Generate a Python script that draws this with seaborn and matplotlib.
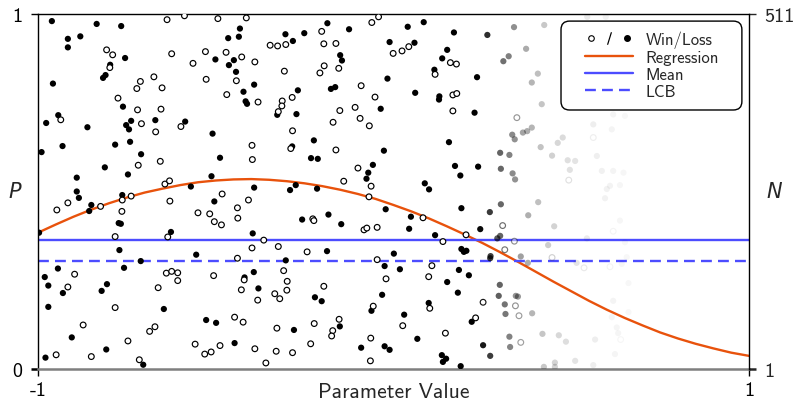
import numpy as np
import pandas as pd
import matplotlib
matplotlib.use("Agg")
import matplotlib.pyplot as plt
import seaborn as sns
from matplotlib.lines import Line2D
from matplotlib.legend_handler import HandlerTuple
from matplotlib.patches import FancyBboxPatch

sns.set_theme(style="ticks")
plt.rcParams['font.family'] = ['cmss10', 'DejaVu Sans']
plt.rcParams['axes.unicode_minus'] = False
plt.rcParams['mathtext.fontset'] = 'dejavusans'

# ---------------- data ----------------
loss_x = [-0.961, -0.835, -0.766, -0.916, -0.881, -0.916, -0.755, -0.501, -0.797, -0.810, -0.817, -0.958,
          -0.761, -0.943, -0.977, -0.861, -0.738, -0.752, -0.744, -0.670, -0.586, -0.509, -0.990, -0.931,
          -0.783, -0.741, -0.710, -0.812, -0.747, -0.891, -0.512, -0.570, -0.891,
          -0.885, -0.850, -0.856, -0.763, -0.773, -0.767, -0.997, -0.771, -0.711, -0.758, -0.504, -0.626,
          -0.555, -0.944, -0.981, -0.971, -0.930, -0.821, -0.806, -0.971, -0.646, -0.905, -0.527, -0.499,
          -0.979, -0.808, -0.704,
          -0.432, -0.465, -0.435, -0.449, -0.463, -0.443, -0.392, -0.422, -0.416, -0.412, -0.304, -0.283,
          -0.251, -0.269, -0.327, -0.273, -0.285, -0.488, -0.224, -0.232, -0.213, -0.392, -0.275, -0.291,
          -0.215, -0.186, -0.125, -0.150, -0.145, -0.176, -0.164, -0.011, -0.017, -0.036, -0.027, -0.058,
          -0.071, -0.076,
          -0.396, -0.257, -0.183, -0.147, -0.187, -0.022, 0.001, -0.303, -0.393, -0.419, -0.380, -0.221,
          -0.202, -0.025, -0.032, -0.062, -0.280, -0.151, -0.447, -0.091, -0.025, -0.011,
          0.040, 0.085, 0.170, 0.059, 0.151, 0.137, 0.115, 0.235, 0.061, 0.129, 0.128, 0.228, 0.156, 0.173,
          0.238, 0.188, 0.088, 0.100,
          0.264, 0.309, 0.324, 0.339, 0.424, 0.373, 0.406, 0.389, 0.417, 0.334, 0.341, 0.364, 0.376, 0.389,
          0.300, 0.326, 0.302, 0.335, 0.342, 0.414, 0.446, 0.462, 0.476, 0.490, 0.496,
          0.191, 0.049, 0.044, 0.117, 0.244, 0.191, 0.198, 0.205, 0.018, 0.184, 0.212, 0.151, 0.181, 0.099,
          0.030, 0.067, 0.220, 0.252, 0.136, 0.148, 0.139, 0.189,
          0.271, 0.302, 0.292, 0.300, 0.273, 0.272, 0.358, 0.378, 0.379, 0.407, 0.452, 0.435, 0.299, 0.296,
          0.344, 0.350, 0.313, 0.315, 0.390, 0.272, 0.326, 0.328, 0.419, 0.465, 0.485, 0.423, 0.454, 0.454,
          0.545, 0.597, 0.562, 0.614, 0.572, 0.511, 0.586, 0.618, 0.647, 0.609, 0.637, 0.618, 0.651, 0.600,
          0.595, 0.637, 0.544, 0.651, 0.656, 0.515, 0.642, 0.661, 0.618, 0.661, 0.614, 0.628, 0.632, 0.567,
          0.623, 0.511, 0.562]
loss_y = [0.980, 0.972, 0.966, 0.930, 0.937, 0.906, 0.876, 0.872, 0.857, 0.828, 0.820, 0.804,
          0.739, 0.715, 0.693, 0.681, 0.699, 0.687, 0.675, 0.701, 0.697, 0.663, 0.611, 0.628,
          0.632, 0.640, 0.605, 0.568, 0.548, 0.539, 0.543, 0.514, 0.500,
          0.482, 0.462, 0.445, 0.490, 0.411, 0.409, 0.384, 0.335, 0.304, 0.285, 0.472, 0.386,
          0.322, 0.283, 0.259, 0.235, 0.214, 0.220, 0.239, 0.175, 0.169, 0.089, 0.138, 0.130,
          0.032, 0.055, 0.012,
          0.959, 0.932, 0.936, 0.870, 0.856, 0.837, 0.801, 0.781, 0.754, 0.747, 0.943, 0.924,
          0.946, 0.785, 0.716, 0.718, 0.627, 0.595, 0.644, 0.594, 0.592, 0.511, 0.518, 0.504,
          0.508, 0.974, 0.957, 0.884, 0.869, 0.789, 0.794, 0.921, 0.818, 0.733, 0.615, 0.575,
          0.553, 0.536,
          0.382, 0.421, 0.435, 0.408, 0.332, 0.450, 0.325, 0.306, 0.273, 0.258, 0.227, 0.202,
          0.191, 0.290, 0.209, 0.164, 0.110, 0.120, 0.073, 0.060, 0.064, 0.054,
          0.964, 0.977, 0.948, 0.919, 0.899, 0.875, 0.843, 0.822, 0.778, 0.768, 0.759, 0.722, 0.639, 0.572,
          0.570, 0.545, 0.523, 0.506,
          0.941, 0.867, 0.881, 0.963, 0.969, 0.902, 0.832, 0.807, 0.746, 0.660, 0.647, 0.666, 0.670, 0.680,
          0.609, 0.603, 0.564, 0.551, 0.534, 0.625, 0.601, 0.637, 0.652, 0.588, 0.561,
          0.453, 0.429, 0.395, 0.377, 0.394, 0.338, 0.330, 0.333, 0.281, 0.279, 0.264, 0.245, 0.215, 0.186,
          0.153, 0.085, 0.133, 0.067, 0.039, 0.029, 0.020, 0.008,
          0.442, 0.464, 0.368, 0.375, 0.318, 0.312, 0.317, 0.299, 0.433, 0.470, 0.402, 0.349, 0.237, 0.206,
          0.206, 0.204, 0.182, 0.155, 0.157, 0.037, 0.091, 0.062, 0.099, 0.095, 0.077, 0.006, 0.018, 0.006,
          0.992, 0.992, 0.689, 0.675, 0.600, 0.586, 0.558, 0.558, 0.553, 0.516, 0.518, 0.717, 0.713, 0.507,
          0.481, 0.418, 0.368, 0.357, 0.315, 0.299, 0.296, 0.242, 0.192, 0.160, 0.146, 0.117, 0.101, 0.083,
          0.042, 0.023, 0.011]

win_x = [-0.637, -0.588, -0.807, -0.790, -0.624, -0.529, -0.564, -0.798, -0.712, -0.722, -0.674, -0.651,
         -0.527, -0.775, -0.720, -0.654, -0.936, -0.709, -0.669, -0.598, -0.656, -0.718, -0.643, -0.630,
         -0.916, -0.947, -0.824, -0.763, -0.738, -0.764, -0.783, -0.629, -0.550, -0.517, -0.504, -0.635,
         -0.506, -0.897, -0.916, -0.639, -0.624, -0.607, -0.607, -0.662, -0.783, -0.873, -0.671, -0.686,
         -0.747, -0.949, -0.850, -0.715, -0.558, -0.531, -0.513,
         -0.494, -0.414, -0.471, -0.427, -0.390, -0.442, -0.469, -0.381, -0.347, -0.326, -0.303, -0.307,
         -0.285, -0.313, -0.314, -0.324, -0.284, -0.289, -0.398, -0.397, -0.202, -0.196, -0.162, -0.195,
         -0.207, -0.154, -0.151, -0.170, -0.162, -0.061, -0.042, -0.001, -0.091, -0.052, -0.108, -0.094,
         -0.068, -0.100, -0.063, -0.140,
         -0.482, -0.408, -0.439, -0.438, -0.484, -0.365, -0.398, -0.324, -0.227, -0.224, -0.243, -0.083,
         -0.075, -0.046, -0.069, -0.439, -0.309, -0.420, -0.428, -0.382, -0.299, -0.300, -0.334, -0.320,
         -0.196, -0.046, -0.021, -0.057, -0.447, -0.423, -0.328, -0.223, -0.153, -0.171, -0.174, -0.488,
         -0.390, -0.330, -0.284, -0.359, -0.233, -0.064, -0.065,
         0.024, 0.043, 0.160, 0.177, 0.117, 0.167, 0.178, 0.167, 0.347, 0.493,
         0.083, 0.139, 0.204, 0.108, 0.099, 0.102, 0.252, 0.026, 0.146, 0.231, 0.307, 0.313, 0.340, 0.446,
         0.343, 0.353, 0.358,
         0.562, 0.618, 0.536, 0.609, 0.639]
win_y = [0.984, 0.995, 0.899, 0.885, 0.888, 0.894, 0.861, 0.849, 0.810, 0.790, 0.823, 0.792,
         0.816, 0.763, 0.730, 0.732, 0.702, 0.691, 0.668, 0.683, 0.585, 0.574, 0.521, 0.530,
         0.468, 0.448, 0.458, 0.476, 0.487, 0.444, 0.373, 0.473, 0.440, 0.437, 0.415, 0.372,
         0.263, 0.267, 0.231, 0.270, 0.275, 0.271, 0.249, 0.229, 0.173, 0.124, 0.119, 0.106,
         0.079, 0.040, 0.035, 0.026, 0.070, 0.042, 0.048,
         0.987, 0.989, 0.892, 0.879, 0.865, 0.812, 0.773, 0.752, 0.912, 0.910, 0.914, 0.839,
         0.765, 0.755, 0.741, 0.725, 0.671, 0.621, 0.630, 0.590, 0.951, 0.916, 0.917, 0.854,
         0.834, 0.847, 0.728, 0.695, 0.617, 0.976, 0.992, 0.889, 0.798, 0.766, 0.737, 0.706,
         0.685, 0.566, 0.515, 0.529,
         0.493, 0.476, 0.454, 0.425, 0.406, 0.363, 0.341, 0.345, 0.423, 0.418, 0.330, 0.392,
         0.397, 0.399, 0.485, 0.312, 0.277, 0.251, 0.223, 0.194, 0.247, 0.222, 0.212, 0.198,
         0.233, 0.308, 0.254, 0.177, 0.146, 0.132, 0.115, 0.128, 0.140, 0.108, 0.093, 0.066,
         0.057, 0.050, 0.046, 0.017, 0.071, 0.087, 0.023,
         0.896, 0.908, 0.863, 0.859, 0.830, 0.772, 0.776, 0.727, 0.708, 0.532,
         0.426, 0.359, 0.378, 0.291, 0.260, 0.171, 0.188, 0.122, 0.101, 0.144, 0.404, 0.336, 0.360, 0.314,
         0.178, 0.150, 0.075,
         0.652, 0.388, 0.285, 0.288, 0.083]

# regression curve
reg_x = [-1.00, -0.95, -0.90, -0.85, -0.80, -0.75, -0.70, -0.65, -0.60, -0.55, -0.50,
         -0.45, -0.40, -0.35, -0.30, -0.25, -0.20, -0.15, -0.10, -0.05, 0.00,
         0.05, 0.10, 0.15, 0.20, 0.25, 0.30, 0.35, 0.40, 0.45, 0.50,
         0.55, 0.60, 0.65, 0.70, 0.75, 0.80, 0.85, 0.90, 0.95, 1.00]
reg_y = [0.384, 0.407, 0.429, 0.449, 0.467, 0.483, 0.497, 0.508, 0.518, 0.526, 0.531,
         0.534, 0.535, 0.533, 0.529, 0.523, 0.515, 0.505, 0.493, 0.479, 0.462,
         0.444, 0.424, 0.402, 0.379, 0.355, 0.329, 0.302, 0.274, 0.246, 0.219,
         0.192, 0.167, 0.144, 0.123, 0.103, 0.086, 0.071, 0.058, 0.046, 0.037]

mean_p = 0.364
lcb_p = 0.304

x_ticks = [-1, 1]
x_tick_labels = ["-1", "1"]
p_ticks = [0, 1]
p_tick_labels = ["0", "1"]
n_ticks = [1, 511]
n_tick_labels = ["1", "511"]
legend_labels = ["Win/Loss", "Regression", "Mean", "LCB"]

ORANGE = '#e8520c'
BLUE = '#4c4cff'
GRAY = '#7f7f7f'


def fade(x):
    x = np.asarray(x, dtype=float)
    return np.clip(np.exp(-(x - 0.24) / 0.12), 0.03, 1.0)


# ---------------- figure ----------------
fig = plt.figure(figsize=(7.99, 4.02), dpi=100)
ax = fig.add_axes([38 / 799, 32 / 402, 711 / 799, 355 / 402])

sns.lineplot(x=reg_x, y=reg_y, ax=ax, color=ORANGE, lw=1.7, estimator=None, sort=False, zorder=2)
ax.axhline(mean_p, color=BLUE, lw=1.7, zorder=2)
ax.axhline(lcb_p, color=BLUE, lw=1.7, dashes=(4.6, 2.6), zorder=2)

loss_df = pd.DataFrame({"x": loss_x, "y": loss_y})
sns.scatterplot(data=loss_df, x="x", y="y", ax=ax, s=20, color="black", linewidth=0, zorder=3)
coll = ax.collections[-1]
fc = np.zeros((len(loss_x), 4))
fc[:, 3] = fade(loss_x)
coll.set_facecolors(fc)
coll.set_edgecolors('none')

win_df = pd.DataFrame({"x": win_x, "y": win_y})
sns.scatterplot(data=win_df, x="x", y="y", ax=ax, s=17, color="white", linewidth=0.85, zorder=4)
coll = ax.collections[-1]
a = fade(win_x)
ec = np.zeros((len(win_x), 4))
ec[:, 3] = a
wf = np.ones((len(win_x), 4))
wf[:, 3] = a
coll.set_facecolors(wf)
coll.set_edgecolors(ec)
coll.set_linewidths(0.85)

ax.set_xlim(-1, 1)
ax.set_ylim(0, 1)
ax.set_xticks(x_ticks)
ax.set_xticklabels(x_tick_labels)
ax.set_yticks(p_ticks)
ax.set_yticklabels(p_tick_labels)
ax.tick_params(axis='both', direction='out', length=5, width=1, labelsize=14.5, pad=4,
               colors='black', bottom=True, left=True)
ax.tick_params(axis='y', pad=6)

for s in ['top', 'left']:
    ax.spines[s].set_color('black')
    ax.spines[s].set_linewidth(1.0)
ax.spines['right'].set_visible(False)
ax.spines['bottom'].set_color(GRAY)
ax.spines['bottom'].set_linewidth(1.8)

ax.set_xlabel("Parameter Value", fontsize=15.5)
ax.xaxis.set_label_coords(0.5, -0.062)
ax.xaxis.label.set_va('center')
ax.set_ylabel("P", fontsize=15, rotation=0, fontstyle='italic', family=['DejaVu Sans'])
ax.yaxis.set_label_coords(-0.032, 0.5)
ax.yaxis.label.set_va('center')
ax.yaxis.label.set_ha('center')

ax2 = ax.twinx()
ax2.set_ylim(1, 511)
ax2.set_yticks(n_ticks)
ax2.set_yticklabels(n_tick_labels)
ax2.tick_params(axis='y', direction='out', length=5, width=1, labelsize=14.5, pad=6, right=True)
for s in ['top', 'left', 'bottom']:
    ax2.spines[s].set_visible(False)
ax2.spines['right'].set_color('black')
ax2.spines['right'].set_linewidth(1.0)
ax2.set_ylabel("N", fontsize=15, rotation=0, fontstyle='italic', family=['DejaVu Sans'])
ax2.yaxis.set_label_coords(1.035, 0.5)
ax2.yaxis.label.set_va('center')
ax2.yaxis.label.set_ha('center')

# gray ticks at the bottom of the P and N axes
t0 = ax.yaxis.get_major_ticks()[0]
t0.tick1line.set_color(GRAY)
t0.tick1line.set_markeredgewidth(1.8)
t1 = ax2.yaxis.get_major_ticks()[0]
t1.tick2line.set_color(GRAY)
t1.tick2line.set_markeredgewidth(1.8)

# ---------------- legend ----------------
h_open = Line2D([], [], ls='none', marker='o', ms=4, mfc='white', mec='black', mew=0.8)
h_slash = Line2D([], [], ls='none', marker='$/$', ms=9, color='black', mew=0)
h_fill = Line2D([], [], ls='none', marker='o', ms=4, mfc='black', mec='black')
h_reg = Line2D([], [], color=ORANGE, lw=1.7)
h_mean = Line2D([], [], color=BLUE, lw=1.7)
h_lcb = Line2D([], [], color=BLUE, lw=1.7, dashes=(4.6, 2.6))
leg = ax.legend([(h_open, h_slash, h_fill), h_reg, h_mean, h_lcb], legend_labels,
                handler_map={tuple: HandlerTuple(ndivide=None, pad=0.4)},
                loc='center', bbox_to_anchor=(0.8636, 0.8577), frameon=False,
                fontsize=12, handlelength=2.9, handletextpad=0.75, labelspacing=0.12,
                borderpad=0, borderaxespad=0)
leg.set_zorder(6)
box = FancyBboxPatch((0.7356, 0.7296), 0.990 - 0.7356, 0.980 - 0.7296,
                     boxstyle="round,pad=0,rounding_size=0.012", mutation_aspect=2.0,
                     transform=ax.transAxes, facecolor='white', edgecolor='black',
                     linewidth=1.0, zorder=5)
ax.add_patch(box)

fig.savefig("out.png", dpi=100)
